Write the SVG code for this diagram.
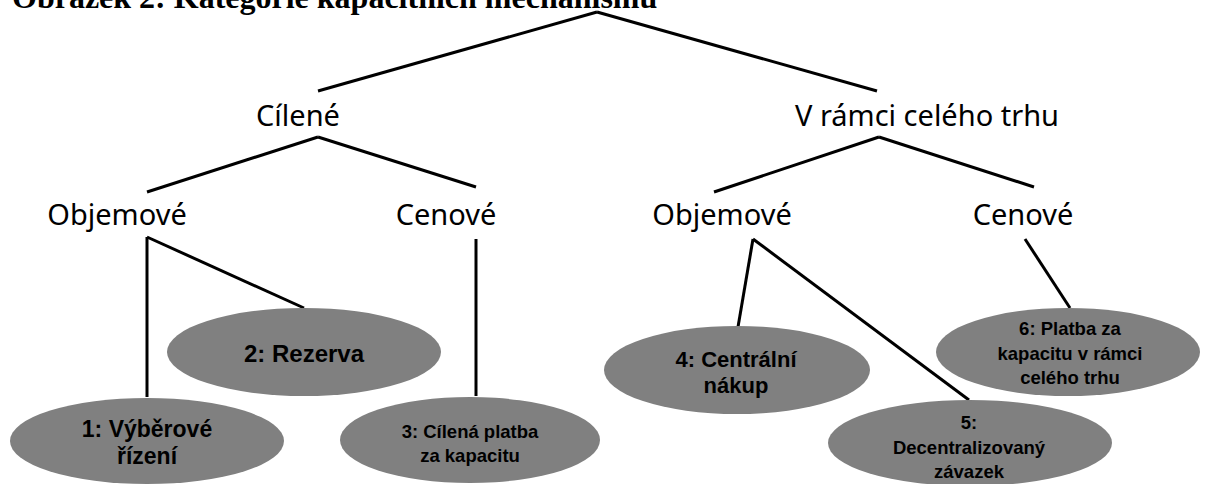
<svg xmlns="http://www.w3.org/2000/svg" width="1216" height="484" viewBox="0 0 1216 484">
<style>
.title{font-family:"Liberation Serif","Times New Roman",serif;font-weight:bold;font-size:32px;fill:#000}
.cat{font-family:"Noto Sans","Open Sans",sans-serif;font-size:29px;fill:#000;text-anchor:middle}
.leaf{fill:#808080;stroke:none}
.lt{font-family:"Liberation Sans",Arial,sans-serif;font-weight:bold;fill:#000;text-anchor:middle}
.conn line{stroke:#000;stroke-width:3;stroke-linecap:butt}
</style>
<rect width="1216" height="484" fill="#fff"/>
<text class="title" x="12" y="8">Obrázek 2: Kategorie kapacitních mechanismů</text>
<g id="connectors" class="conn">
<line x1="597" y1="12" x2="318" y2="91"/>
<line x1="597" y1="12" x2="877" y2="91"/>
<line x1="318" y1="137" x2="147" y2="192"/>
<line x1="318" y1="137" x2="476" y2="187"/>
<line x1="879" y1="137" x2="714" y2="192"/>
<line x1="879" y1="137" x2="1034" y2="187"/>
<line x1="147" y1="237" x2="147" y2="397"/>
<line x1="147" y1="237" x2="304" y2="308"/>
<line x1="476" y1="239" x2="476" y2="396"/>
<line x1="753" y1="239" x2="738" y2="327"/>
<line x1="753" y1="239" x2="969" y2="400"/>
<line x1="1025" y1="239" x2="1070" y2="308"/>
</g>
<g id="n-cilene"><text class="cat" x="298" y="126">Cílené</text></g>
<g id="n-trh"><text class="cat" x="927" y="126">V rámci celého trhu</text></g>
<g id="n-objem-l"><text class="cat" x="117" y="225">Objemové</text></g>
<g id="n-cen-l"><text class="cat" x="446" y="225">Cenové</text></g>
<g id="n-objem-r"><text class="cat" x="722" y="225">Objemové</text></g>
<g id="n-cen-r"><text class="cat" x="1023" y="225">Cenové</text></g>
<g id="n-2">
<ellipse class="leaf" cx="304" cy="352" rx="137" ry="44"/>
<text class="lt" font-size="24" x="304" y="362">2: Rezerva</text>
</g>
<g id="n-1">
<ellipse class="leaf" cx="147" cy="441" rx="137" ry="43"/>
<text class="lt" font-size="23" x="147" y="437">1: Výběrové</text>
<text class="lt" font-size="23" x="147" y="464">řízení</text>
</g>
<g id="n-3">
<ellipse class="leaf" cx="470" cy="440" rx="130" ry="43"/>
<text class="lt" font-size="18.5" x="470" y="438">3: Cílená platba</text>
<text class="lt" font-size="18.5" x="470" y="462">za kapacitu</text>
</g>
<g id="n-4">
<ellipse class="leaf" cx="737" cy="370" rx="133" ry="44"/>
<text class="lt" font-size="22" x="736" y="367">4: Centrální</text>
<text class="lt" font-size="22" x="736" y="393">nákup</text>
</g>
<g id="n-5">
<ellipse class="leaf" cx="970" cy="443" rx="142" ry="43"/>
<text class="lt" font-size="18.5" x="969" y="429">5:</text>
<text class="lt" font-size="18.5" x="969" y="454">Decentralizovaný</text>
<text class="lt" font-size="18.5" x="969" y="478">závazek</text>
</g>
<g id="n-6">
<ellipse class="leaf" cx="1068" cy="352" rx="132" ry="44"/>
<text class="lt" font-size="18.5" x="1070" y="335">6: Platba za</text>
<text class="lt" font-size="18.5" x="1070" y="360">kapacitu v rámci</text>
<text class="lt" font-size="18.5" x="1070" y="384">celého trhu</text>
</g>
</svg>
